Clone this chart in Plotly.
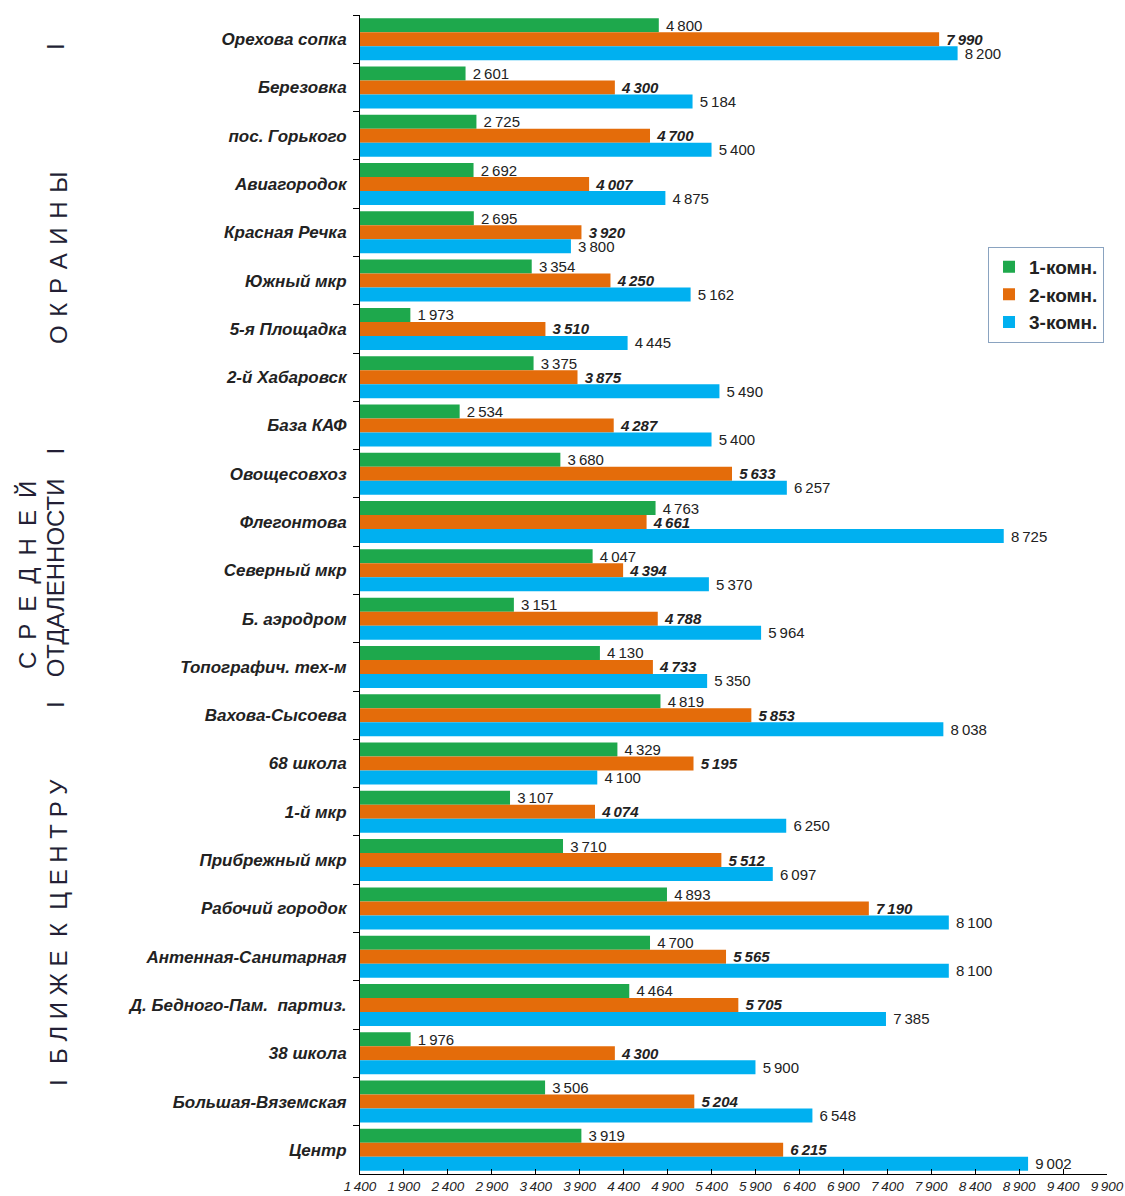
import plotly.graph_objects as go

categories = [
    "Орехова сопка", "Березовка", "пос. Горького", "Авиагородок", "Красная Речка",
    "Южный мкр", "5-я Площадка", "2-й Хабаровск", "База КАФ", "Овощесовхоз",
    "Флегонтова", "Северный мкр", "Б. аэродром", "Топографич. тех-м", "Вахова-Сысоева",
    "68 школа", "1-й мкр", "Прибрежный мкр", "Рабочий городок", "Антенная-Санитарная",
    "Д. Бедного-Пам.\u00a0 партиз.", "38 школа", "Большая-Вяземская", "Центр",
]
one_room = [4800, 2601, 2725, 2692, 2695, 3354, 1973, 3375, 2534, 3680,
            4763, 4047, 3151, 4130, 4819, 4329, 3107, 3710, 4893, 4700,
            4464, 1976, 3506, 3919]
two_room = [7990, 4300, 4700, 4007, 3920, 4250, 3510, 3875, 4287, 5633,
            4661, 4394, 4788, 4733, 5853, 5195, 4074, 5512, 7190, 5565,
            5705, 4300, 5204, 6215]
three_room = [8200, 5184, 5400, 4875, 3800, 5162, 4445, 5490, 5400, 6257,
              8725, 5370, 5964, 5350, 8038, 4100, 6250, 6097, 8100, 8100,
              7385, 5900, 6548, 9002]
series_names = ["1-комн.", "2-комн.", "3-комн."]
x_ticks = list(range(1400, 9901, 500))


def fmt(v):
    s = f"{v:,}"
    return s.replace(",", "\u2009")


FONT = "Liberation Sans, Arial, sans-serif"
colors = ["#1ea84c", "#e46c0a", "#00b0f0"]
styles = [("normal", "normal"), ("italic", "bold"), ("normal", "normal")]

fig = go.Figure()
for i, (name, vals) in enumerate(zip(series_names, [one_room, two_room, three_room])):
    fig.add_trace(go.Bar(
        y=categories, x=vals, name=name, orientation="h",
        marker=dict(color=colors[i], line=dict(width=0)),
        text=["\u00a0" + fmt(v) for v in vals], textposition="outside",
        textfont=dict(family=FONT, size=15, color="#222222",
                      style=styles[i][0], weight=styles[i][1]),
        constraintext="none", cliponaxis=False,
        legendgroup=name,
    ))

fig.update_layout(
    width=1125, height=1196,
    margin=dict(l=360, r=18, t=15, b=22),
    paper_bgcolor="white", plot_bgcolor="white",
    barmode="group", bargap=0.13, bargroupgap=0,
    showlegend=True,
    legend=dict(
        x=0.996, y=0.80, xanchor="right", yanchor="top",
        bgcolor="white", bordercolor="#8aa3c0", borderwidth=1,
        font=dict(family=FONT, size=19, color="#222222", weight="bold"),
        tracegroupgap=12, traceorder="normal", itemwidth=30,
    ),
    xaxis=dict(
        range=[1400, 9900], tickvals=x_ticks, ticktext=[fmt(v) for v in x_ticks],
        showgrid=False, zeroline=False, showline=True, linecolor="#000000", linewidth=1,
        ticks="inside", ticklen=5, tickcolor="#000000", automargin=False,
        tickfont=dict(family=FONT, size=13.5, color="#222222", style="italic"),
    ),
    yaxis=dict(
        type="category", categoryorder="array", categoryarray=categories,
        autorange="reversed", automargin=False,
        showgrid=False, zeroline=False, showline=True, linecolor="#000000", linewidth=1,
        ticks="outside", ticklen=6, tickcolor="#000000", tickson="boundaries",
        ticklabelstandoff=9,
        tickfont=dict(family=FONT, size=17, color="#222222", style="italic", weight="bold"),
    ),
)

gcol = "#231f35"
PX0, PW = 360, 747
PY0, PH = 15, 1159


def ann(text, px, py, size=24):
    fig.add_annotation(
        text=text, xref="paper", yref="paper",
        x=(px - PX0) / PW, y=1 - (py - PY0) / PH,
        xanchor="center", yanchor="middle", showarrow=False, textangle=-90,
        font=dict(family=FONT, size=size, color=gcol),
    )


ann("I", 56, 47)
ann("О\u200a К\u200a Р\u200a А\u200a И\u200a Н\u200a Ы", 58, 258)
ann("С\u2002Р\u2002Е\u2002Д\u2002Н\u2002Е\u2002Й", 28, 575)
ann("I\u2002\u2002ОТДАЛЕННОСТИ\u2002\u2002I", 55, 578)
ann("Б Л И Ж Е\u00a0\u00a0К\u00a0\u00a0Ц Е Н Т Р У", 58, 922)
ann("I", 58, 1083)

fig.write_html(
    "out.html",
    config={"displayModeBar": False},
    post_script="document.body.style.margin='0';document.body.style.padding='0';"
                "document.documentElement.style.overflow='hidden';",
)
